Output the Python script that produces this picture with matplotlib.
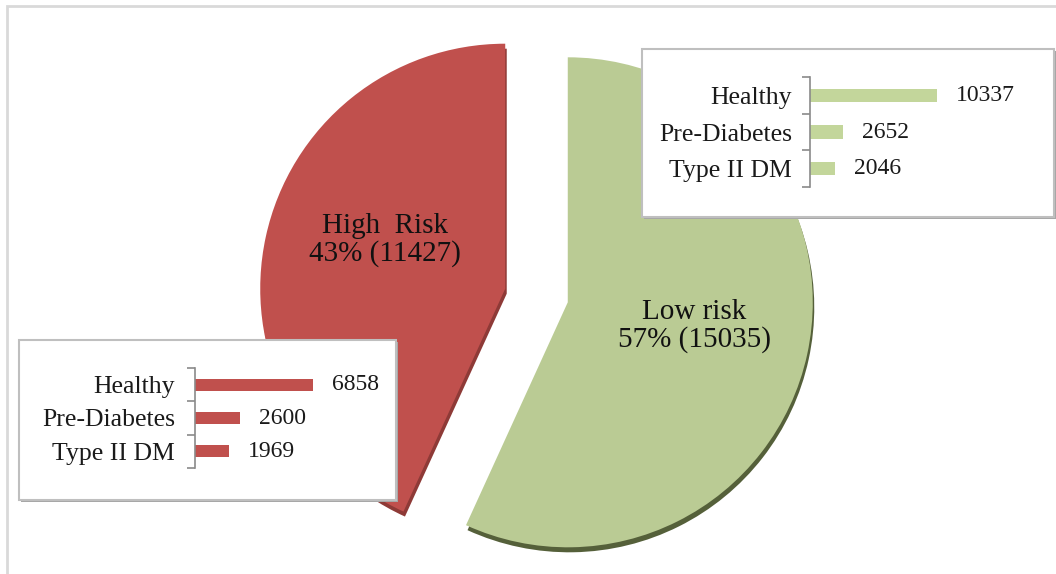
import matplotlib.pyplot as plt
from matplotlib.patches import Rectangle

plt.rcParams['font.family'] = ['Liberation Serif', 'DejaVu Serif']

# Overall split
risk_labels = ['High  Risk', 'Low risk']
risk_counts = [11427, 15035]
risk_pct = ['43%', '57%']

# Breakdown inside each group
groups = ['Healthy', 'Pre-Diabetes', 'Type II DM']
high_counts = [6858, 2600, 1969]
low_counts = [10337, 2652, 2046]

red = '#c0504d'
red_side = '#8e3a37'
green = '#bacb94'
green_side = '#55603a'
green_bar = '#c3d69b'

W, H = 1056, 574
fig = plt.figure(figsize=(W / 100, H / 100), dpi=100)
ax = fig.add_axes([0, 0, 1, 1])

# pixel-style coordinates, y measured from the bottom
cx, cy, r = 536.5, 278.5, 245
expl = [32, 32]

# darker copy underneath gives the slab its side
ax.pie(risk_counts, colors=[red_side, green_side], startangle=90,
       counterclock=True, radius=r, center=(cx + 1.5, cy - 5), explode=expl,
       wedgeprops=dict(linewidth=0, zorder=1))
wedges, _ = ax.pie(risk_counts, colors=[red, green], startangle=90,
                   counterclock=True, radius=r, center=(cx, cy), explode=expl,
                   wedgeprops=dict(linewidth=0, zorder=2))
ax.set_aspect('auto')
ax.set_xlim(0, W)
ax.set_ylim(0, H)
ax.axis('off')

label_pos = [(385, H - 240), (694, H - 326)]
for (x, y), name, pct, n in zip(label_pos, risk_labels, risk_pct, risk_counts):
    ax.text(x, y, f'{name}\n{pct} ({n})', ha='center', va='center',
            fontsize=21, linespacing=1.05, color='#111111', zorder=5)

# outer frame, only its top and left edges fall inside the canvas
ax.add_patch(Rectangle((7, -10), W, H - 6 + 10, fill=False,
                       edgecolor='#d9d9d9', linewidth=2, zorder=0))

# white boxes holding the breakdown bars
for x0, y0, x1, y1 in [(642, 49, 1054, 217), (19, 340, 396, 500)]:
    ax.add_patch(Rectangle((x0 + 2, H - y1 - 2), x1 - x0, y1 - y0,
                           facecolor='#a6a6a6', edgecolor='none', zorder=6))
    ax.add_patch(Rectangle((x0, H - y1), x1 - x0, y1 - y0,
                           facecolor='white', edgecolor='#bfbfbf',
                           linewidth=1.5, zorder=7))


def breakdown(rect, counts, color, xmax, pad):
    bx = fig.add_axes(rect)
    bx.patch.set_alpha(0)
    ypos = range(len(groups))
    bx.barh(ypos, counts, height=0.36, color=color)
    bx.set_xlim(0, xmax)
    bx.set_ylim(len(groups) - 0.5, -0.5)
    bx.set_yticks(list(ypos))
    bx.set_yticklabels(groups, fontsize=18.5, color='#1a1a1a')
    bx.set_yticks([i - 0.5 for i in range(len(groups) + 1)], minor=True)
    bx.tick_params(axis='y', which='major', length=0, pad=pad)
    bx.tick_params(axis='y', which='minor', length=6, width=1.2,
                   color='#8a8a8a', direction='out')
    bx.set_xticks([])
    for s in ['top', 'right', 'bottom']:
        bx.spines[s].set_visible(False)
    bx.spines['left'].set_color('#8a8a8a')
    bx.spines['left'].set_linewidth(1.2)
    for i, v in enumerate(counts):
        bx.annotate(str(v), (v, i), xytext=(13.7, 0), textcoords='offset points',
                    ha='left', va='center', fontsize=17, color='#1a1a1a')


# low-risk box (top right)
breakdown([810 / W, (H - 187) / H, 200 / W, 110 / H], low_counts, green_bar,
          200 / 0.01229, 13)
# high-risk box (bottom left)
breakdown([195 / W, (H - 468) / H, 170 / W, 100 / H], high_counts, red,
          170 / 0.0172, 14.4)

fig.savefig('out.png', dpi=100)
